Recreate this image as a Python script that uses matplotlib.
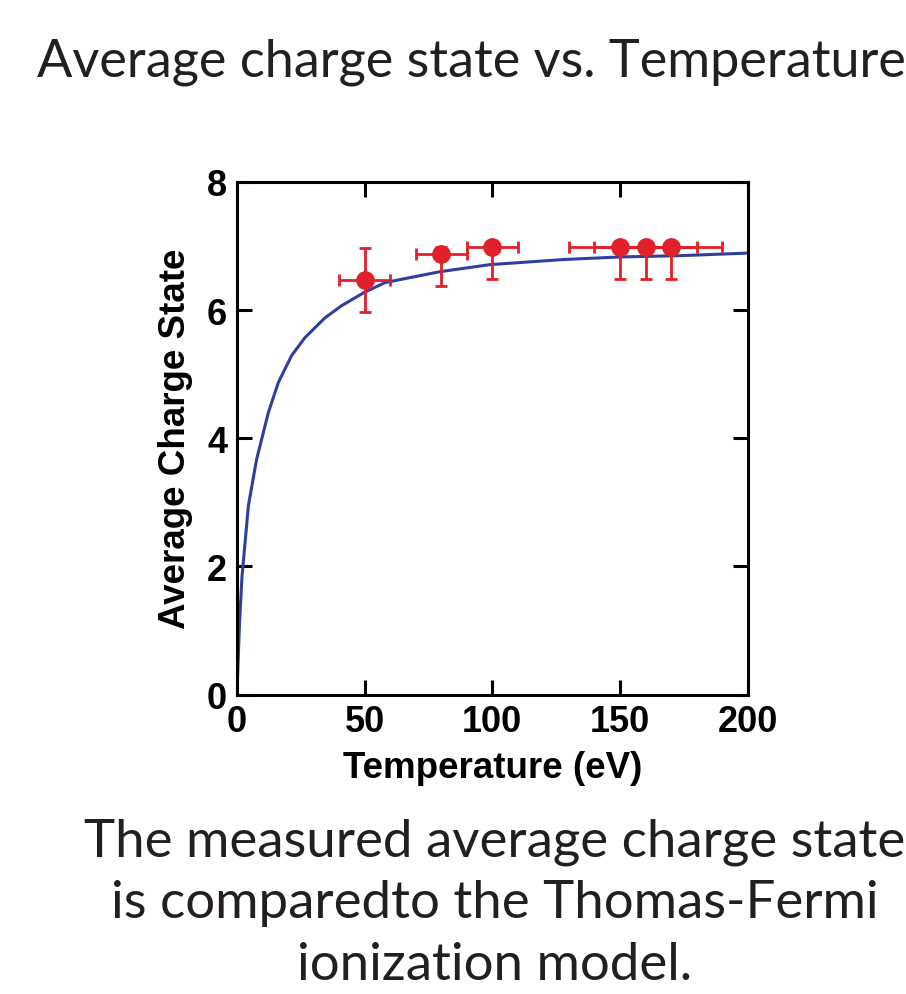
import matplotlib
matplotlib.use("Agg")
import matplotlib.pyplot as plt

# Measured data
temp = [50, 80, 100, 150, 160, 170]
charge = [6.47, 6.87, 6.98, 6.98, 6.98, 6.98]
temp_err = [10, 10, 10, 20, 20, 20]
charge_err_low = [0.5, 0.5, 0.5, 0.5, 0.5, 0.5]
charge_err_high = [0.5, 0.11, 0.0, 0.0, 0.0, 0.0]

# Thomas-Fermi model curve
model_t = [0, 1, 2, 4.5, 7.7, 12.3, 16.2, 21.4, 26.6, 34.5, 41, 50, 58, 79.5, 99, 128, 150, 173.5, 200]
model_z = [0, 1.1, 1.85, 2.95, 3.67, 4.4, 4.87, 5.29, 5.57, 5.88, 6.07, 6.28, 6.43, 6.60, 6.71, 6.79, 6.83, 6.85, 6.89]

xticks = [0, 50, 100, 150, 200]
yticks = [0, 2, 4, 6, 8]

fig = plt.figure(figsize=(9.06, 9.95), dpi=100)
ax = fig.add_axes([0.2615, 0.3009, 0.5638, 0.5152])

ax.plot(model_t, model_z, color="#2f3f9f", lw=2.2, zorder=2)
ax.errorbar(temp, charge, xerr=temp_err, yerr=[charge_err_low, charge_err_high], fmt="o",
            color="#e0202a", ecolor="#e0202a", markersize=12.5, elinewidth=2.0,
            capsize=4.5, capthick=2.0, zorder=3)

ax.set_xlim(0, 200)
ax.set_ylim(0, 8)
ax.set_xticks(xticks)
ax.set_yticks(yticks)
for s in ax.spines.values():
    s.set_linewidth(2.2)
ax.tick_params(direction="in", length=11, width=2.2, top=True, right=True, pad=7)
for lab in ax.get_xticklabels() + ax.get_yticklabels():
    lab.set_fontfamily("Liberation Sans")
    lab.set_fontweight("bold")
    lab.set_fontsize(26)

ax.set_xlabel("Temperature (eV)", fontfamily="Liberation Sans", fontweight="bold", fontsize=26.5, labelpad=8)
ax.set_ylabel("Average Charge State", fontfamily="Liberation Sans", fontweight="bold", fontsize=26.5, labelpad=10)

fig.text(0.52, 0.937, "Average charge state vs. Temperature", ha="center", va="center",
         fontfamily="Lato", fontsize=37.6, color="#231f20")
fig.text(0.546, 0.092, "The measured average charge state\nis comparedto the Thomas-Fermi\nionization model.",
         ha="center", va="center", fontfamily="Lato", fontsize=38, color="#231f20", linespacing=1.38)

fig.savefig("out.png", dpi=100)
